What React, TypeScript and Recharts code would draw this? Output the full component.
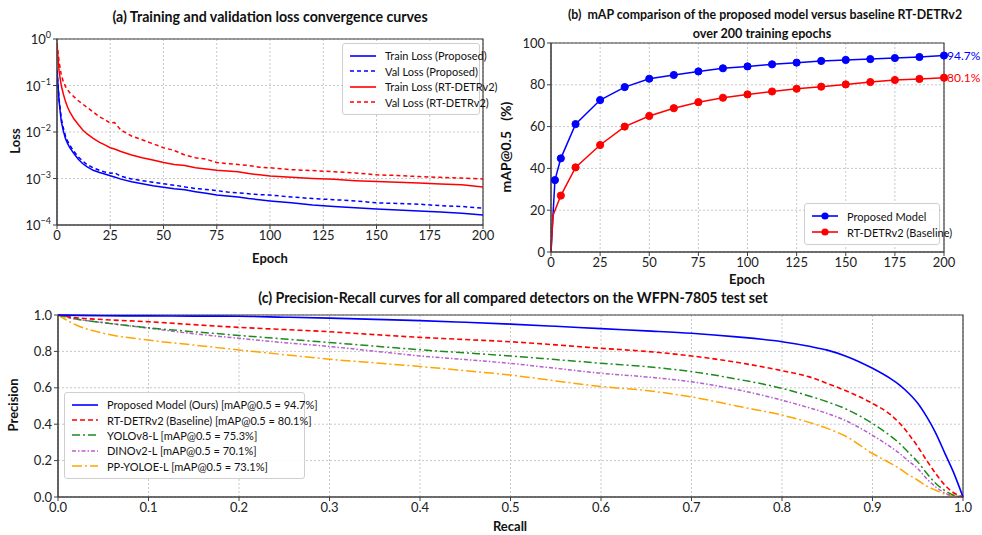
import React from "react";
import {
  CartesianGrid,
  Line,
  LineChart,
  ReferenceArea,
  ReferenceDot,
  XAxis,
  YAxis
} from "recharts";

// (a) loss curves
const LOSS_EPOCHS = [0, 1, 2, 3, 4, 5, 6, 8, 10, 12, 14, 17, 20, 22, 25, 27, 30, 35, 40, 45, 50, 55, 60, 65, 70, 75, 80, 85, 90, 95, 100, 110, 120, 130, 140, 150, 160, 170, 180, 190, 200];
const TRAIN_PROPOSED = [0.22, 0.045, 0.017, 0.0105, 0.0072, 0.0056, 0.0046, 0.0034, 0.0026, 0.0021, 0.0018, 0.0015, 0.00135, 0.00127, 0.00115, 0.00108, 0.00097, 0.00085, 0.00077, 0.0007, 0.00065, 0.0006, 0.00057, 0.00052, 0.00048, 0.00044, 0.00042, 0.0004, 0.00037, 0.00035, 0.00033, 0.0003, 0.00027, 0.00025, 0.000235, 0.00022, 0.00021, 0.0002, 0.00019, 0.000178, 0.000165];
const VAL_PROPOSED = [0.21, 0.05, 0.02, 0.012, 0.0082, 0.0064, 0.0052, 0.0038, 0.0029, 0.0024, 0.002, 0.0017, 0.0015, 0.0014, 0.0013, 0.00133, 0.00112, 0.00098, 0.0009, 0.00083, 0.00077, 0.00072, 0.00066, 0.00061, 0.00058, 0.00055, 0.00051, 0.00049, 0.00047, 0.00045, 0.00044, 0.0004, 0.00037, 0.00035, 0.00033, 0.0003, 0.00029, 0.00028, 0.00026, 0.00025, 0.00023];
const TRAIN_RT = [0.75, 0.2, 0.1, 0.065, 0.045, 0.034, 0.027, 0.019, 0.0145, 0.0112, 0.0092, 0.0073, 0.006, 0.0054, 0.0046, 0.0043, 0.0038, 0.0032, 0.0028, 0.0025, 0.0022, 0.002, 0.0019, 0.0017, 0.0016, 0.0015, 0.00145, 0.0014, 0.00128, 0.0012, 0.00113, 0.00106, 0.001, 0.00096, 0.0009, 0.00086, 0.00083, 0.0008, 0.00076, 0.00073, 0.00066];
const VAL_RT = [0.82, 0.32, 0.17, 0.12, 0.095, 0.08, 0.07, 0.057, 0.047, 0.04, 0.034, 0.027, 0.021, 0.019, 0.0155, 0.016, 0.011, 0.0082, 0.0068, 0.0056, 0.0046, 0.004, 0.0032, 0.0028, 0.0026, 0.0022, 0.0021, 0.002, 0.0019, 0.00175, 0.0017, 0.00155, 0.00148, 0.0014, 0.00132, 0.0012, 0.00116, 0.0011, 0.00106, 0.00102, 0.00098];
const EPOCH_TICKS = [0, 25, 50, 75, 100, 125, 150, 175, 200];
const LOSS_TICKS = [0.0001, 0.001, 0.01, 0.1, 1];

// (b) mAP per epoch
const MAP_EPOCHS = [0, 1, 2, 5, 12.5, 25, 37.5, 50, 62.5, 75, 87.5, 100, 112.5, 125, 137.5, 150, 162.5, 175, 187.5, 200];
const MAP_PROPOSED = [0, null, 34.4, 44.8, 61.2, 72.7, 78.9, 82.9, 84.7, 86.4, 87.9, 88.8, 89.8, 90.6, 91.4, 91.9, 92.3, 92.8, 93.3, 94.0];
const MAP_BASELINE = [0, 17.5, null, 27, 40.5, 51.2, 60, 65.1, 68.8, 71.7, 73.8, 75.4, 76.8, 78.1, 79.1, 80.2, 81.3, 82.3, 82.8, 83.4];
const MARKED_EPOCHS = [2, 5, 12.5, 25, 37.5, 50, 62.5, 75, 87.5, 100, 112.5, 125, 137.5, 150, 162.5, 175, 187.5, 200];
const MAP_TICKS = [0, 20, 40, 60, 80, 100];

// (c) precision-recall
const RECALL = [0, 0.02, 0.05, 0.1, 0.15, 0.2, 0.25, 0.3, 0.35, 0.4, 0.45, 0.5, 0.55, 0.6, 0.65, 0.7, 0.75, 0.8, 0.83, 0.85, 0.87, 0.9, 0.92, 0.93, 0.94, 0.95, 0.96, 0.97, 0.98, 0.99, 1.0];
const PR_PROPOSED = [1.0, 0.998, 0.996, 0.995, 0.994, 0.993, 0.988, 0.983, 0.976, 0.969, 0.96, 0.95, 0.938, 0.925, 0.913, 0.9, 0.88, 0.853, 0.828, 0.807, 0.775, 0.707, 0.65, 0.615, 0.57, 0.515, 0.44, 0.35, 0.24, 0.13, 0.0];
const PR_RTDETR = [1.0, 0.985, 0.975, 0.963, 0.947, 0.932, 0.92, 0.908, 0.892, 0.877, 0.865, 0.853, 0.836, 0.817, 0.8, 0.775, 0.74, 0.694, 0.66, 0.624, 0.585, 0.514, 0.452, 0.405, 0.345, 0.277, 0.2, 0.128, 0.065, 0.022, 0.0];
const PR_YOLO = [1.0, 0.978, 0.958, 0.93, 0.908, 0.888, 0.868, 0.849, 0.829, 0.809, 0.792, 0.775, 0.755, 0.735, 0.716, 0.689, 0.648, 0.597, 0.555, 0.523, 0.485, 0.404, 0.335, 0.294, 0.243, 0.193, 0.13, 0.074, 0.035, 0.01, 0.0];
const PR_DINO = [1.0, 0.978, 0.958, 0.928, 0.897, 0.872, 0.848, 0.827, 0.801, 0.775, 0.755, 0.734, 0.707, 0.68, 0.66, 0.633, 0.59, 0.532, 0.49, 0.459, 0.42, 0.339, 0.275, 0.239, 0.197, 0.156, 0.1, 0.055, 0.022, 0.005, 0.0];
const PR_PPYOLOE = [1.0, 0.945, 0.9, 0.862, 0.835, 0.808, 0.782, 0.757, 0.737, 0.717, 0.694, 0.67, 0.638, 0.607, 0.585, 0.55, 0.5, 0.45, 0.41, 0.377, 0.335, 0.239, 0.185, 0.156, 0.122, 0.092, 0.06, 0.037, 0.015, 0.005, 0.0];
const TENTHS = [0, 0.1, 0.2, 0.3, 0.4, 0.5, 0.6, 0.7, 0.8, 0.9, 1];
const FIFTHS = [0, 0.2, 0.4, 0.6, 0.8, 1];

const BLUE = "#0000ff";
const RED = "#ff0000";
const GREEN = "#1f8a1f";
const PURPLE = "#b65fcf";
const ORANGE = "#ffa500";
const FRAME = "#404040";
const GRID = "#c8c8c8";
const FONT = "Lato, 'DejaVu Sans', sans-serif";

const lossRows = LOSS_EPOCHS.map((epoch, i) => ({
  epoch,
  trainProposed: TRAIN_PROPOSED[i],
  valProposed: VAL_PROPOSED[i],
  trainRt: TRAIN_RT[i],
  valRt: VAL_RT[i]
}));

const mapRows = MAP_EPOCHS.map((epoch, i) => ({
  epoch,
  proposed: MAP_PROPOSED[i],
  baseline: MAP_BASELINE[i]
}));

const prRows = RECALL.map((recall, i) => ({
  recall,
  proposed: PR_PROPOSED[i],
  rtdetr: PR_RTDETR[i],
  yolo: PR_YOLO[i],
  dino: PR_DINO[i],
  ppyoloe: PR_PPYOLOE[i]
}));

const tickStyle = { fill: "#222", fontSize: 13, fontFamily: FONT };

function LogTick({ x, y, payload }: any) {
  const exp = Math.round(Math.log10(payload.value));
  return (
    <text x={x} y={y} textAnchor="end" dy={5} fill="#222" fontSize={13} fontFamily={FONT}>
      10
      <tspan dy={-6} fontSize={9}>
        {exp === 0 ? "0" : "\u2212" + Math.abs(exp)}
      </tspan>
    </text>
  );
}

function markerDot(color: string) {
  return (props: any) => {
    const { cx, cy, payload, index, value } = props;
    if (cy == null || value == null || !MARKED_EPOCHS.includes(payload.epoch)) {
      return <g key={index} />;
    }
    return <circle key={index} cx={cx} cy={cy} r={3.6} fill={color} stroke={color} />;
  };
}

function Caption({
  x,
  y,
  children,
  rotate = false,
  size = 13,
  bold = true
}: {
  x: number;
  y: number;
  children: React.ReactNode;
  rotate?: boolean;
  size?: number;
  bold?: boolean;
}) {
  return (
    <div
      style={{
        position: "absolute",
        left: x,
        top: y,
        transform: `translate(-50%, -50%)${rotate ? " rotate(-90deg)" : ""}`,
        whiteSpace: "nowrap",
        fontSize: size,
        fontWeight: bold ? 700 : 400,
        color: "#111",
        lineHeight: 1
      }}
    >
      {children}
    </div>
  );
}

type LegendItem = { label: string; color: string; dash?: string; marker?: boolean };

function LegendBox({
  left,
  top,
  items,
  rowHeight,
  fontSize,
  width
}: {
  left: number;
  top: number;
  items: LegendItem[];
  rowHeight: number;
  fontSize: number;
  width: number;
}) {
  return (
    <div
      style={{
        position: "absolute",
        left,
        top,
        width,
        padding: "4px 6px",
        background: "rgba(255,255,255,0.85)",
        border: "1px solid #cfcfcf",
        borderRadius: 3,
        fontSize,
        color: "#111",
        boxSizing: "border-box"
      }}
    >
      {items.map((it) => (
        <div key={it.label} style={{ display: "flex", alignItems: "center", height: rowHeight }}>
          <svg width={28} height={10} style={{ marginRight: 8, flex: "none" }}>
            <line x1={1} y1={5} x2={27} y2={5} stroke={it.color} strokeWidth={1.6} strokeDasharray={it.dash} />
            {it.marker && <circle cx={14} cy={5} r={3.6} fill={it.color} />}
          </svg>
          <span style={{ whiteSpace: "nowrap" }}>{it.label}</span>
        </div>
      ))}
    </div>
  );
}

const LOSS_LEGEND: LegendItem[] = [
  { label: "Train Loss (Proposed)", color: BLUE },
  { label: "Val Loss (Proposed)", color: BLUE, dash: "4 3" },
  { label: "Train Loss (RT-DETRv2)", color: RED },
  { label: "Val Loss (RT-DETRv2)", color: RED, dash: "4 3" }
];

const MAP_LEGEND: LegendItem[] = [
  { label: "Proposed Model", color: BLUE, marker: true },
  { label: "RT-DETRv2 (Baseline)", color: RED, marker: true }
];

const PR_LEGEND: LegendItem[] = [
  { label: "Proposed Model (Ours) [mAP@0.5 = 94.7%]", color: BLUE },
  { label: "RT-DETRv2 (Baseline) [mAP@0.5 = 80.1%]", color: RED, dash: "5 3" },
  { label: "YOLOv8-L [mAP@0.5 = 75.3%]", color: GREEN, dash: "8 3 2 3" },
  { label: "DINOv2-L [mAP@0.5 = 70.1%]", color: PURPLE, dash: "4 2 1.5 2" },
  { label: "PP-YOLOE-L [mAP@0.5 = 73.1%]", color: ORANGE, dash: "10 3 2 3" }
];

export default function App() {
  return (
    <div
      style={{
        position: "fixed",
        left: 0,
        top: 0,
        width: 982,
        height: 535,
        background: "#fff",
        fontFamily: FONT,
        overflow: "hidden"
      }}
    >
      {/* (a) */}
      <div style={{ position: "absolute", left: 0, top: 0 }}>
        <LineChart width={500} height={285} data={lossRows} margin={{ top: 39, right: 17, bottom: 30, left: 0 }}>
          <CartesianGrid stroke={GRID} strokeDasharray="2 2" />
          <XAxis
            dataKey="epoch"
            type="number"
            domain={[0, 200]}
            ticks={EPOCH_TICKS}
            tick={tickStyle}
            tickSize={4}
            height={30}
            stroke={FRAME}
            allowDataOverflow
          />
          <YAxis
            type="number"
            scale="log"
            domain={[0.0001, 1]}
            ticks={LOSS_TICKS}
            tick={<LogTick />}
            tickSize={4}
            width={57}
            stroke={FRAME}
            allowDataOverflow
          />
          <ReferenceArea x1={0} x2={200} y1={0.0001} y2={1} fill="none" stroke={FRAME} strokeWidth={1.2} />
          <Line type="linear" dataKey="valRt" stroke={RED} strokeWidth={1.5} strokeDasharray="4 3" dot={false} isAnimationActive={false} />
          <Line type="linear" dataKey="trainRt" stroke={RED} strokeWidth={1.5} dot={false} isAnimationActive={false} />
          <Line type="linear" dataKey="valProposed" stroke={BLUE} strokeWidth={1.5} strokeDasharray="4 3" dot={false} isAnimationActive={false} />
          <Line type="linear" dataKey="trainProposed" stroke={BLUE} strokeWidth={1.5} dot={false} isAnimationActive={false} />
        </LineChart>
      </div>

      {/* (b) */}
      <div style={{ position: "absolute", left: 490, top: 0 }}>
        <LineChart width={492} height={290} data={mapRows} margin={{ top: 43, right: 38, bottom: 16, left: 0 }}>
          <CartesianGrid stroke={GRID} strokeDasharray="2 2" />
          <XAxis
            dataKey="epoch"
            type="number"
            domain={[0, 200]}
            ticks={EPOCH_TICKS}
            tick={tickStyle}
            tickSize={4}
            height={22}
            stroke={FRAME}
          />
          <YAxis
            type="number"
            domain={[0, 100]}
            ticks={MAP_TICKS}
            tick={tickStyle}
            tickSize={4}
            width={61}
            stroke={FRAME}
          />
          <ReferenceArea x1={0} x2={200} y1={0} y2={100} fill="none" stroke={FRAME} strokeWidth={1.2} />
          <Line type="linear" dataKey="proposed" stroke={BLUE} strokeWidth={1.5} connectNulls dot={markerDot(BLUE)} activeDot={false} isAnimationActive={false} />
          <Line type="linear" dataKey="baseline" stroke={RED} strokeWidth={1.5} connectNulls dot={markerDot(RED)} activeDot={false} isAnimationActive={false} />
          <ReferenceDot
            x={200}
            y={MAP_PROPOSED[MAP_PROPOSED.length - 1] as number}
            r={0}
            stroke="none"
            label={{ value: "94.7%", position: "right", offset: 3, fill: BLUE, fontSize: 12, fontFamily: FONT }}
          />
          <ReferenceDot
            x={200}
            y={MAP_BASELINE[MAP_BASELINE.length - 1] as number}
            r={0}
            stroke="none"
            label={{ value: "80.1%", position: "right", offset: 3, fill: RED, fontSize: 12, fontFamily: FONT }}
          />
        </LineChart>
      </div>

      {/* (c) */}
      <div style={{ position: "absolute", left: 0, top: 285 }}>
        <LineChart width={982} height={250} data={prRows} margin={{ top: 30, right: 19, bottom: 16, left: 0 }}>
          <CartesianGrid stroke={GRID} strokeDasharray="2 2" />
          <XAxis
            dataKey="recall"
            type="number"
            domain={[0, 1]}
            ticks={TENTHS}
            tickFormatter={(v: number) => v.toFixed(1)}
            tick={tickStyle}
            tickSize={4}
            height={22}
            stroke={FRAME}
          />
          <YAxis
            type="number"
            domain={[0, 1]}
            ticks={FIFTHS}
            tickFormatter={(v: number) => v.toFixed(1)}
            tick={tickStyle}
            tickSize={4}
            width={58}
            stroke={FRAME}
          />
          <ReferenceArea x1={0} x2={1} y1={0} y2={1} fill="none" stroke={FRAME} strokeWidth={1.2} />
          <Line type="monotone" dataKey="ppyoloe" stroke={ORANGE} strokeWidth={1.5} strokeDasharray="10 3 2 3" dot={false} isAnimationActive={false} />
          <Line type="monotone" dataKey="dino" stroke={PURPLE} strokeWidth={1.5} strokeDasharray="4 2 1.5 2" dot={false} isAnimationActive={false} />
          <Line type="monotone" dataKey="yolo" stroke={GREEN} strokeWidth={1.5} strokeDasharray="8 3 2 3" dot={false} isAnimationActive={false} />
          <Line type="monotone" dataKey="rtdetr" stroke={RED} strokeWidth={1.6} strokeDasharray="5 3" dot={false} isAnimationActive={false} />
          <Line type="monotone" dataKey="proposed" stroke={BLUE} strokeWidth={1.6} dot={false} isAnimationActive={false} />
        </LineChart>
      </div>

      {/* titles and axis names */}
      <Caption x={270} y={17} size={14.2}>(a) Training and validation loss convergence curves</Caption>
      <Caption x={270} y={258}>Epoch</Caption>
      <Caption x={15} y={141} rotate>Loss</Caption>

      <Caption x={765} y={15} size={12.4}>(b)&nbsp; mAP comparison of the proposed model versus baseline RT-DETRv2</Caption>
      <Caption x={762} y={34} size={12.6}>over 200 training epochs</Caption>
      <Caption x={747} y={279}>Epoch</Caption>
      <Caption x={506} y={147} rotate size={14}>mAP@0.5&nbsp;&nbsp; (%)</Caption>

      <Caption x={513} y={298} size={14.2}>(c) Precision-Recall curves for all compared detectors on the WFPN-7805 test set</Caption>
      <Caption x={510} y={526}>Recall</Caption>
      <Caption x={13} y={405} rotate>Precision</Caption>

      <LegendBox left={342} top={43} width={138} items={LOSS_LEGEND} rowHeight={15.5} fontSize={11} />
      <LegendBox left={804} top={203} width={136} items={MAP_LEGEND} rowHeight={16} fontSize={11} />
      <LegendBox left={64} top={392} width={241} items={PR_LEGEND} rowHeight={15.4} fontSize={11} />
    </div>
  );
}
